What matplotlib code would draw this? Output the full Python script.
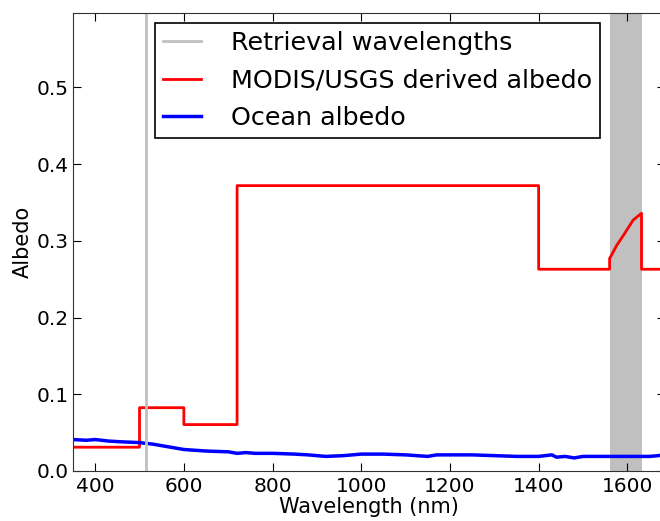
import numpy as np
import matplotlib
matplotlib.use("Agg")
import matplotlib.pyplot as plt

# MODIS/USGS derived albedo (step function edges + values)
modis_wl = [350, 500, 500, 600, 600, 720, 720, 1400, 1400, 1560, 1560, 1563,
            1576, 1591, 1613, 1632, 1632, 1690]
modis_alb = [0.031, 0.031, 0.0825, 0.0825, 0.0605, 0.0605, 0.372, 0.372, 0.263, 0.263,
             0.277, 0.280, 0.294, 0.307, 0.327, 0.336, 0.263, 0.263]

# Ocean albedo
ocean_wl = [350, 380, 400, 430, 460, 500, 530, 560, 600, 650, 700, 720, 740, 760,
            800, 850, 880, 920, 960, 1000, 1050, 1100, 1150, 1170, 1250, 1300,
            1350, 1400, 1430, 1440, 1460, 1480, 1500, 1550, 1600, 1650, 1670, 1690]
ocean_alb = [0.041, 0.040, 0.041, 0.039, 0.038, 0.037, 0.035, 0.032, 0.028, 0.026,
             0.025, 0.023, 0.024, 0.023, 0.023, 0.022, 0.021, 0.019, 0.020, 0.022,
             0.022, 0.021, 0.019, 0.021, 0.021, 0.020, 0.019, 0.019, 0.021, 0.018,
             0.019, 0.017, 0.019, 0.019, 0.019, 0.019, 0.020, 0.022]

retrieval_line = 515
retrieval_band = (1560, 1632)

fig = plt.figure(figsize=(6.6, 5.21), dpi=100)
ax = fig.add_axes([0.1106, 0.096, 0.897, 0.879])

ax.axvspan(retrieval_band[0], retrieval_band[1], color='#c0c0c0', lw=0)
ax.plot(modis_wl, modis_alb, color='red', lw=2, label='MODIS/USGS derived albedo')
ax.plot(ocean_wl, ocean_alb, color='blue', lw=2.5, label='Ocean albedo')
ax.axvline(retrieval_line, color='#c0c0c0', lw=2, label='Retrieval wavelengths')

ax.set_xlim(350, 1685)
ax.set_ylim(0, 0.597)
ax.set_xticks([400, 600, 800, 1000, 1200, 1400, 1600])
ax.set_yticks([0.0, 0.1, 0.2, 0.3, 0.4, 0.5])
ax.tick_params(direction='in', top=True, right=True, labelsize=14.5, length=6)
ax.tick_params(axis='y', pad=3)
ax.tick_params(axis='x', pad=4)
for s in ax.spines.values():
    s.set_color('#333333')

ax.set_xlabel('Wavelength (nm)', fontsize=15, labelpad=1)
ax.set_ylabel('Albedo', fontsize=15, labelpad=3)

h, l = ax.get_legend_handles_labels()
order = [2, 0, 1]
leg = ax.legend([h[i] for i in order], [l[i] for i in order], loc='upper right',
                bbox_to_anchor=(0.890, 0.978), fontsize=18.3, fancybox=False,
                framealpha=1, edgecolor='black', handlelength=1.5, handletextpad=1.15,
                borderpad=0.32, labelspacing=0.52, borderaxespad=0)
leg.get_frame().set_linewidth(1.2)

fig.savefig('out.png', dpi=100)
